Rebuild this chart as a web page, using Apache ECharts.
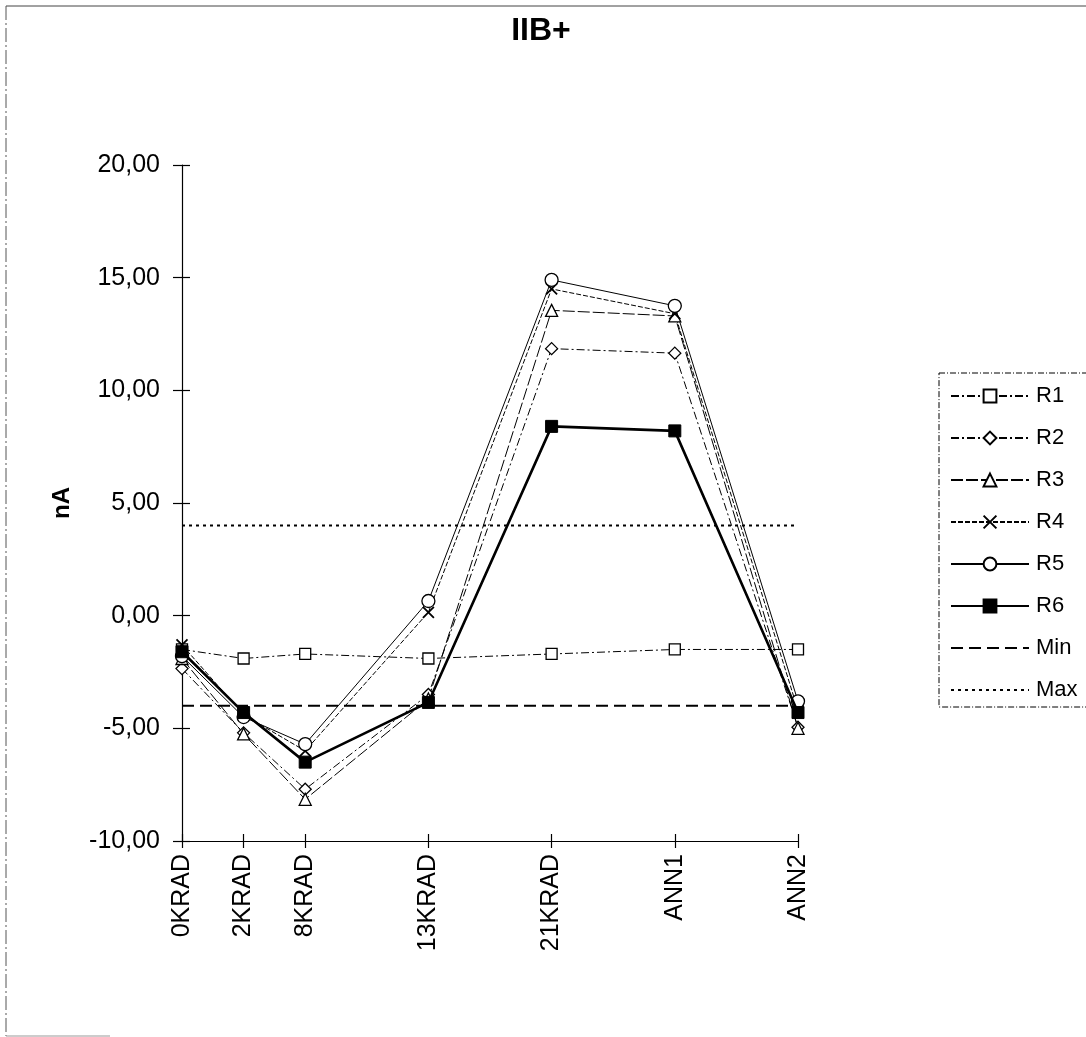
<!DOCTYPE html>
<html>
<head>
<meta charset="utf-8">
<script src="https://cdn.jsdelivr.net/npm/echarts@6/dist/echarts.min.js"></script>
<style>html,body{margin:0;padding:0;background:#fff;}#c{width:1086px;height:1037px;}</style>
</head>
<body>
<div id="c"></div>
<script>
// Categories and their horizontal positions on the value axis (uneven spacing as in the original)
const categories = ['0KRAD', '2KRAD', '8KRAD', '13KRAD', '21KRAD', 'ANN1', 'ANN2'];
const xPos = [0, 1, 2, 4, 6, 8, 10];
const yTicks = [-10, -5, 0, 5, 10, 15, 20];

const R1 = [-1.5, -1.9, -1.7, -1.9, -1.7, -1.5, -1.5];
const R2 = [-2.35, -5.2, -7.7, -3.5, 11.85, 11.65, -4.95];
const R3 = [-1.9, -5.25, -8.15, -3.7, 13.55, 13.3, -5.0];
const R4 = [-1.3, -4.4, -6.0, 0.15, 14.5, 13.4, -4.2];
const R5 = [-1.8, -4.5, -5.7, 0.65, 14.9, 13.75, -3.8];
const R6 = [-1.6, -4.3, -6.5, -3.85, 8.4, 8.2, -4.3];
const MinV = [-4, -4, -4, -4, -4, -4, -4];
const MaxV = [4, 4, 4, 4, 4, 4, 4];

const FONT = '"Liberation Sans", Arial, sans-serif';
const pts = arr => arr.map((v, i) => [xPos[i], v]);
const crossPath = 'path://M0,0L10,10M10,0L0,10';

function ser(name, data, symbol, size, lineStyle, itemStyle, z) {
  return {
    name, type: 'line', data: pts(data), symbol, symbolSize: size,
    showSymbol: symbol !== 'none',
    lineStyle: Object.assign({ color: '#000' }, lineStyle),
    itemStyle: itemStyle || { color: '#fff', borderColor: '#000', borderWidth: 1.3 },
    emphasis: { disabled: true }, animation: false, z: z || 2
  };
}

const baseX = {
  type: 'value', min: 0, max: 10, position: 'bottom',
  splitLine: { show: false }
};

const option = {
  animation: false,
  backgroundColor: '#fff',
  title: {
    text: 'IIB+', left: 536, top: 10, textAlign: 'center',
    textStyle: { fontFamily: FONT, fontSize: 32, fontWeight: 'bold', color: '#000' }
  },
  grid: { left: 182, top: 165, width: 616, height: 676, containLabel: false },
  legend: {
    orient: 'vertical', left: 939, top: 373,
    padding: [12, 40, 6, 11],
    borderColor: '#000', borderWidth: 1, borderType: [6, 2, 1, 2],
    itemWidth: 78, itemHeight: 16, itemGap: 20,
    textStyle: { fontFamily: FONT, fontSize: 22, color: '#000', padding: [0, 0, 0, 2] },
    data: ['R1', 'R2', 'R3', 'R4', 'R5', 'R6',
      { name: 'Min', itemStyle: { opacity: 0, borderWidth: 0 } },
      { name: 'Max', itemStyle: { opacity: 0, borderWidth: 0 } }]
  },
  xAxis: [
    Object.assign({}, baseX, {
      axisLine: { show: true, onZero: false, lineStyle: { color: '#000', width: 1.2 } },
      axisTick: { show: true, customValues: xPos, length: 7, lineStyle: { color: '#000', width: 1.2 } },
      axisLabel: {
        show: true, customValues: xPos, rotate: 90, margin: 13,
        fontFamily: FONT, fontSize: 25, color: '#000',
        formatter: v => categories[xPos.indexOf(Math.round(v))] || ''
      }
    }),
    Object.assign({}, baseX, {
      axisLine: { show: false, onZero: false },
      axisTick: { show: true, inside: true, customValues: xPos, length: 7, lineStyle: { color: '#000', width: 1.2 } },
      axisLabel: { show: false }
    })
  ],
  yAxis: [
    {
      type: 'value', min: -10, max: 20, interval: 5,
      name: 'nA', nameLocation: 'middle', nameGap: 108, nameRotate: 90,
      nameTextStyle: { fontFamily: FONT, fontSize: 24, fontWeight: 'bold', color: '#000' },
      splitLine: { show: false },
      axisLine: { show: true, onZero: false, lineStyle: { color: '#000', width: 1.2 } },
      axisTick: { show: true, length: 9, lineStyle: { color: '#000', width: 1.2 } },
      axisLabel: {
        margin: 22, fontFamily: FONT, fontSize: 25, color: '#000',
        customValues: yTicks,
        formatter: v => v.toFixed(2).replace('.', ',')
      }
    },
    {
      type: 'value', min: -10, max: 20, interval: 5, position: 'left',
      splitLine: { show: false },
      axisLine: { show: false, onZero: false },
      axisTick: { show: true, inside: true, length: 8, lineStyle: { color: '#000', width: 1.2 } },
      axisLabel: { show: false }
    }
  ],
  series: [
    ser('R1', R1, 'rect', 11, { width: 1, type: [8, 3, 2, 3] }),
    ser('R2', R2, 'diamond', 12, { width: 1, type: [8, 3, 2, 3] }),
    ser('R3', R3, 'triangle', 12, { width: 1, type: [12, 3] }),
    ser('R4', R4, crossPath, 11, { width: 1, type: [5, 2] }, { color: 'none', borderColor: '#000', borderWidth: 1.8 }),
    ser('R5', R5, 'circle', 13, { width: 1 }),
    ser('R6', R6, 'rect', 12, { width: 2.6 }, { color: '#000', borderColor: '#000', borderWidth: 1 }, 3),
    ser('Min', MinV, 'none', 0, { width: 2, type: [12, 6] }),
    ser('Max', MaxV, 'none', 0, { width: 2, type: [3, 4] })
  ],
  graphic: [
    { type: 'line', shape: { x1: 6, y1: 6, x2: 1086, y2: 6 }, style: { stroke: '#444', lineWidth: 1 } },
    { type: 'line', shape: { x1: 6, y1: 6, x2: 6, y2: 1036 }, style: { stroke: '#555', lineWidth: 1, lineDash: [14, 3, 2, 3] } },
    { type: 'line', shape: { x1: 6, y1: 1036, x2: 110, y2: 1036 }, style: { stroke: '#999', lineWidth: 1 } }
  ]
};

const chart = echarts.init(document.getElementById('c'), null, { renderer: 'canvas' });
chart.setOption(option);
</script>
</body>
</html>
